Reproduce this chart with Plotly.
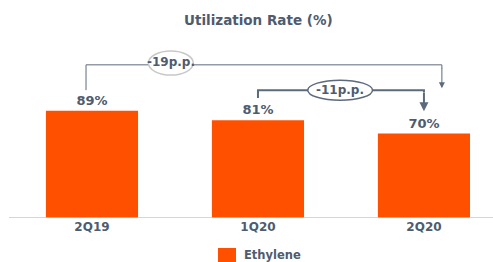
import plotly.graph_objects as go

categories = ["2Q19", "1Q20", "2Q20"]
values = [89, 81, 70]
labels = ["89%", "81%", "70%"]
series_name = "Ethylene"
title_text = "Utilization Rate (%)"
delta_long = "-19p.p."
delta_short = "-11p.p."

TXT = "#4f5b6e"
LINE = "#5d6a7c"
BAR = "#ff5000"
FONT = "DejaVu Sans"

W, H = 493, 262
ML, MR, MT, MB = 9, 0, 40, 44
PW, PH = W - ML - MR, H - MT - MB


def px_x(p):
    return (p - ML) / PW


def px_y(p):
    return 1 - (p - MT) / PH


fig = go.Figure()
fig.add_trace(go.Bar(
    x=list(range(len(categories))), y=values, name=series_name,
    marker=dict(color=BAR, line=dict(width=0)), width=0.555,
    text=[f"<b>{t}</b>" for t in labels], textposition="outside", cliponaxis=False,
    textfont=dict(family=FONT, size=13, color=TXT),
    showlegend=False, hoverinfo="skip",
))

shapes = []
# baseline
shapes.append(dict(type="line", xref="paper", yref="y", x0=0, x1=1, y0=0, y1=0,
                   line=dict(color="#c8c8c8", width=1.5)))
# long bracket: 2Q19 -> 2Q20
xa, xb = 0 - 0.036, 2 + 0.108
y_top = values[0] + 38
shapes.append(dict(type="path", xref="x", yref="y",
                   path=f"M {xa},{values[0]+17} L {xa},{y_top} L {xb},{y_top} L {xb},{y_top-3}",
                   line=dict(color=LINE, width=1)))
# short bracket: 1Q20 -> 2Q20
y2 = values[1] + 25
shapes.append(dict(type="path", xref="x", yref="y",
                   path=f"M 1,{values[1]+18.5} L 1,{y2} L 2,{y2} L 2,{y2-2}",
                   line=dict(color=LINE, width=2)))
# ellipses
shapes.append(dict(type="circle", xref="x", yref="y", x0=0.34, x1=0.61,
                   y0=y_top - 8.5, y1=y_top + 11.5,
                   line=dict(color="#c8c8c8", width=1.5), fillcolor="white"))
shapes.append(dict(type="circle", xref="x", yref="y", x0=1.30, x1=1.69,
                   y0=y2 - 8.3, y1=y2 + 8.3,
                   line=dict(color=LINE, width=1.5), fillcolor="white"))
# legend swatch
shapes.append(dict(type="rect", xref="paper", yref="paper",
                   x0=px_x(218), x1=px_x(236), y0=px_y(262), y1=px_y(248),
                   line=dict(width=0), fillcolor=BAR))

annotations = [
    dict(x=0.475, y=y_top + 2, xref="x", yref="y", text=f"<b>{delta_long}</b>",
         showarrow=False, font=dict(family=FONT, size=12, color=TXT)),
    dict(x=1.495, y=y2, xref="x", yref="y", text=f"<b>{delta_short}</b>",
         showarrow=False, font=dict(family=FONT, size=12, color=TXT)),
    dict(x=xb, y=values[0] + 18.5, xref="x", yref="y", ax=0, ay=-22,
         showarrow=True, arrowhead=2, arrowsize=1.2, arrowwidth=1, arrowcolor=LINE, text=""),
    dict(x=2, y=values[2] + 18.5, xref="x", yref="y", ax=0, ay=-20,
         showarrow=True, arrowhead=2, arrowsize=0.9, arrowwidth=2, arrowcolor=LINE, text=""),
    dict(text=f"<b>{title_text}</b>", x=px_x(258), y=px_y(20), xref="paper",
         yref="paper", showarrow=False, xanchor="center", yanchor="middle",
         font=dict(family=FONT, size=13.5, color=TXT)),
    dict(text=f"<b>{series_name}</b>", x=px_x(242), y=px_y(255), xref="paper",
         yref="paper", showarrow=False, xanchor="left", yanchor="middle",
         font=dict(family=FONT, size=11.5, color=TXT)),
]

fig.update_layout(
    width=W, height=H,
    margin=dict(l=ML, r=MR, t=MT, b=MB, autoexpand=False),
    paper_bgcolor="white", plot_bgcolor="white",
    shapes=shapes,
    annotations=annotations,
    hovermode=False,
    xaxis=dict(range=[-0.5, 2.416], tickmode="array", tickvals=list(range(len(categories))),
               ticktext=[f"<b>{c}</b>" for c in categories],
               tickfont=dict(family=FONT, size=12, color=TXT),
               showgrid=False, zeroline=False, showline=False, ticks="", fixedrange=True,
               automargin=False),
    yaxis=dict(range=[0, 147.6], visible=False, showgrid=False, zeroline=False,
               fixedrange=True),
    showlegend=False,
)
fig.write_html("out.html", config={"displayModeBar": False},
               post_script="document.body.style.margin='0';document.body.style.padding='0';")
